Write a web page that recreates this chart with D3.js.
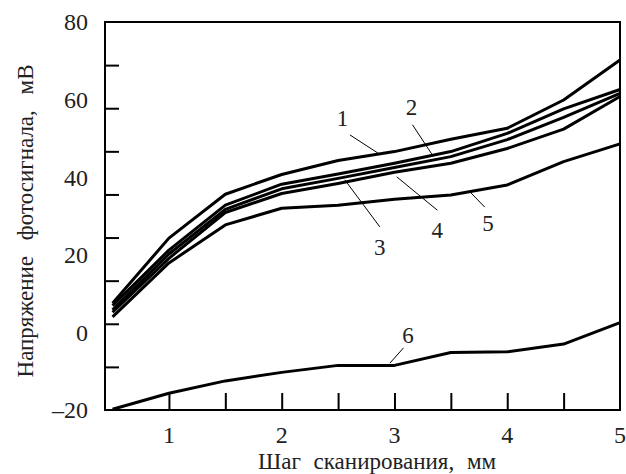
<!DOCTYPE html>
<html>
<head>
<meta charset="utf-8">
<script src="https://cdn.jsdelivr.net/npm/d3@7"></script>
<style>
  html, body { margin: 0; padding: 0; background: #fff; }
</style>
</head>
<body>
<div id="chart"></div>
<script>
// data
const steps = [0.5, 1, 1.5, 2, 2.5, 3, 3.5, 4, 4.5, 5];
const curve1 = [7.5, 24.3, 35.6, 40.7, 44.3, 46.6, 49.8, 52.6, 59.9, 70.2];
const curve2 = [6.9, 21.2, 32.8, 38.2, 40.8, 43.6, 46.6, 51.3, 57.6, 62.6];
const curve3 = [5.8, 20.2, 31.7, 37.0, 39.7, 42.5, 45.3, 49.7, 55.4, 61.6];
const curve4 = [5.2, 19.1, 30.9, 35.8, 38.4, 41.3, 43.6, 47.4, 52.4, 60.8];
const curve5 = [4.0, 17.9, 27.7, 32.0, 32.8, 34.3, 35.4, 38.0, 44.0, 48.6];
const curve6 = [-19.8, -15.7, -12.5, -10.3, -8.5, -8.5, -5.2, -5.0, -3.0, 2.5];
const curveNames = ["1", "2", "3", "4", "5", "6"];

const xTicks = [1, 1.5, 2, 2.5, 3, 3.5, 4, 4.5];
const xLabels = [1, 2, 3, 4, 5];
const yLabels = [-20, 0, 20, 40, 60, 80];

// curve labels: text position and leader line ends (data units)
const labelX = [2.54, 3.15, 2.87, 3.38, 3.83, 3.12];
const labelY = [55.3, 58.1, 22.0, 26.4, 28.2, -0.7];
const leaderFrom = [[2.605, 50.9], [3.16, 53.5], [2.56, 39.3], [3.02, 40.1], [3.67, 36.2], [3.08, -4.0]];
const leaderTo = [[2.854, 46.2], [3.33, 46.0], [2.87, 27.2], [3.38, 31.5], [3.80, 32.3], [2.96, -7.9]];

const W = 626, H = 474;
const margin = { left: 105, right: 6, top: 22, bottom: 64 };
const FONT = "Liberation Serif";

const svg = d3.select("#chart").append("svg").attr("width", W).attr("height", H);

const x = d3.scaleLinear().domain([0.433, 5]).range([margin.left, W - margin.right]);
const y = d3.scaleLinear().domain([-20, 80]).range([H - margin.bottom, margin.top]);

const series = [curve1, curve2, curve3, curve4, curve5, curve6];

const line = d3.line().x((d, i) => x(steps[i])).y(d => y(d));

svg.append("g")
  .selectAll("path")
  .data(series)
  .enter()
  .append("path")
  .attr("d", d => line(d))
  .attr("fill", "none")
  .attr("stroke", "#000")
  .attr("stroke-width", 3)
  .attr("stroke-linejoin", "round");

// frame
svg.append("rect")
  .attr("x", x.range()[0])
  .attr("y", y.range()[1])
  .attr("width", x.range()[1] - x.range()[0])
  .attr("height", y.range()[0] - y.range()[1])
  .attr("fill", "none")
  .attr("stroke", "#000")
  .attr("stroke-width", 2);

// x ticks point up into the plot
const xAxis = svg.append("g").attr("transform", "translate(0," + y(-20) + ")");
xAxis.call(d3.axisTop(x).tickValues(xTicks).tickSize(17).tickFormat(""));
xAxis.select(".domain").remove();
xAxis.selectAll("line").attr("stroke", "#000").attr("stroke-width", 2);

// y ticks split the axis into nine equal parts, independent of the labels
const yDiv = 9;
const yTicks = d3.range(1, yDiv).map(i => -20 + i * 100 / yDiv);
const yAxis = svg.append("g").attr("transform", "translate(" + x(0.433) + ",0)");
yAxis.call(d3.axisRight(y).tickValues(yTicks).tickSize(14).tickFormat(""));
yAxis.select(".domain").remove();
yAxis.selectAll("line").attr("stroke", "#000").attr("stroke-width", 2);

// tick labels
svg.append("g")
  .selectAll("text")
  .data(xLabels)
  .enter()
  .append("text")
  .attr("x", d => x(d))
  .attr("y", y(-20) + 33)
  .attr("text-anchor", "middle")
  .style("font-family", FONT)
  .style("font-size", "24px")
  .style("fill", "#222")
  .text(d => d);

svg.append("g")
  .selectAll("text")
  .data(yLabels)
  .enter()
  .append("text")
  .attr("x", 88)
  .attr("y", d => y(d))
  .attr("dy", "0.35em")
  .attr("text-anchor", "end")
  .style("font-family", FONT)
  .style("font-size", "24px")
  .style("fill", "#222")
  .text(d => d < 0 ? "\u2013" + Math.abs(d) : d);

// axis titles
svg.append("text")
  .attr("x", 377)
  .attr("y", 469)
  .attr("text-anchor", "middle")
  .style("font-family", FONT)
  .style("font-size", "23px")
  .style("fill", "#222")
  .style("word-spacing", "7px")
  .text("Шаг сканирования, мм");

svg.append("text")
  .attr("transform", "translate(33,221) rotate(-90)")
  .attr("text-anchor", "middle")
  .style("font-family", FONT)
  .style("font-size", "23px")
  .style("fill", "#222")
  .style("word-spacing", "10px")
  .text("Напряжение фотосигнала, мВ");

// curve labels with leader lines
const ann = svg.append("g");
ann.selectAll("line")
  .data(curveNames)
  .enter()
  .append("line")
  .attr("x1", (d, i) => x(leaderFrom[i][0]))
  .attr("y1", (d, i) => y(leaderFrom[i][1]))
  .attr("x2", (d, i) => x(leaderTo[i][0]))
  .attr("y2", (d, i) => y(leaderTo[i][1]))
  .attr("stroke", "#000")
  .attr("stroke-width", 1);

ann.selectAll("text")
  .data(curveNames)
  .enter()
  .append("text")
  .attr("x", (d, i) => x(labelX[i]))
  .attr("y", (d, i) => y(labelY[i]))
  .attr("dy", "0.35em")
  .attr("text-anchor", "middle")
  .style("font-family", FONT)
  .style("font-size", "23px")
  .style("fill", "#222")
  .text(d => d);
</script>
</body>
</html>
